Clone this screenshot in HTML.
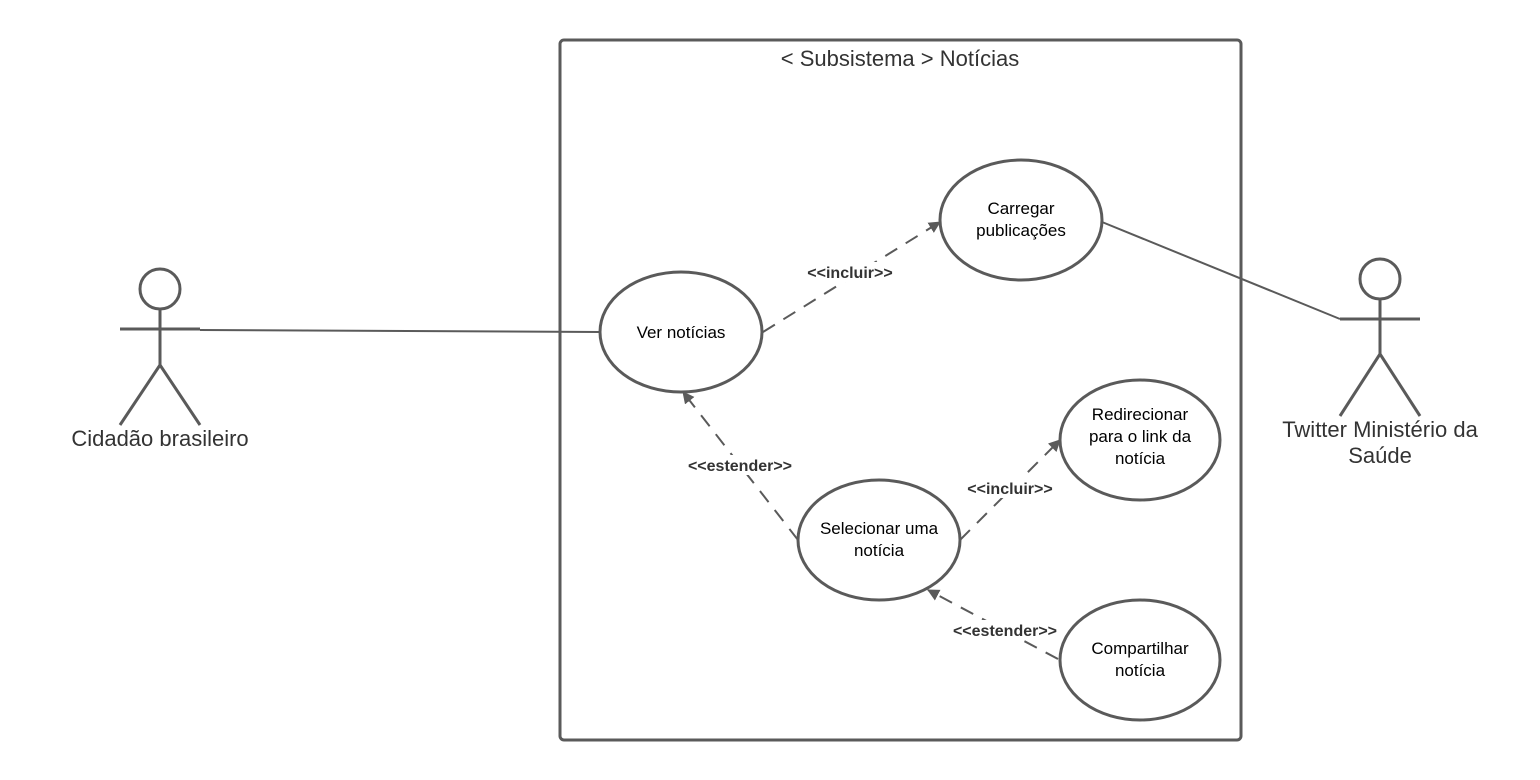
<!DOCTYPE html>
<html><head><meta charset="utf-8"><style>
html,body{margin:0;padding:0;background:#fff;}
svg{display:block;}
text{font-family:"Liberation Sans",Arial,sans-serif;}
</style></head><body>
<svg width="1540" height="780" viewBox="0 0 1540 780" xmlns="http://www.w3.org/2000/svg">
<defs>
<marker id="a" markerWidth="12" markerHeight="12" refX="11" refY="6" orient="auto" markerUnits="userSpaceOnUse">
<path d="M0,0 L12,6 L0,12 Z" fill="#5a5a5a"/>
</marker>
</defs>
<g stroke="#5a5a5a" stroke-width="3" fill="none">
<rect x="560" y="40" width="681" height="700" rx="4"/>
<circle cx="160" cy="289" r="20"/>
<line x1="160" y1="309" x2="160" y2="365"/>
<line x1="120" y1="329" x2="200" y2="329"/>
<line x1="160" y1="365" x2="120" y2="425"/>
<line x1="160" y1="365" x2="200" y2="425"/>
<circle cx="1380" cy="279" r="20"/>
<line x1="1380" y1="299" x2="1380" y2="354"/>
<line x1="1340" y1="319" x2="1420" y2="319"/>
<line x1="1380" y1="354" x2="1340" y2="416"/>
<line x1="1380" y1="354" x2="1420" y2="416"/>
<ellipse cx="681" cy="332" rx="81" ry="60"/>
<ellipse cx="1021" cy="220" rx="81" ry="60"/>
<ellipse cx="879" cy="540" rx="81" ry="60"/>
<ellipse cx="1140" cy="440" rx="80" ry="60"/>
<ellipse cx="1140" cy="660" rx="80" ry="60"/>
</g>
<g stroke="#5a5a5a" stroke-width="2" fill="none">
<line x1="200" y1="330" x2="600" y2="332"/>
<line x1="1102" y1="222" x2="1340" y2="319"/>
</g>
<g stroke="#5a5a5a" stroke-width="2" fill="none" stroke-dasharray="14,10">
<line x1="763" y1="332" x2="940" y2="222" marker-end="url(#a)"/>
<line x1="798" y1="540" x2="683" y2="392" marker-end="url(#a)"/>
<line x1="960" y1="540" x2="1060" y2="440" marker-end="url(#a)"/>
<line x1="1058" y1="659" x2="928" y2="590" marker-end="url(#a)"/>
</g>
<g font-size="16" font-weight="bold" fill="#333" text-anchor="middle">
<rect x="800" y="262" width="100" height="20" fill="#fff"/>
<text x="850" y="278">&lt;&lt;incluir&gt;&gt;</text>
<rect x="682" y="455" width="116" height="20" fill="#fff"/>
<text x="740" y="471">&lt;&lt;estender&gt;&gt;</text>
<rect x="960" y="478" width="100" height="20" fill="#fff"/>
<text x="1010" y="494">&lt;&lt;incluir&gt;&gt;</text>
<rect x="947" y="620" width="116" height="20" fill="#fff"/>
<text x="1005" y="636">&lt;&lt;estender&gt;&gt;</text>
</g>
<g font-size="17" fill="#000" text-anchor="middle">
<text x="681" y="338">Ver notícias</text>
<text x="1021" y="214">Carregar</text>
<text x="1021" y="236">publicações</text>
<text x="879" y="534">Selecionar uma</text>
<text x="879" y="556">notícia</text>
<text x="1140" y="420">Redirecionar</text>
<text x="1140" y="442">para o link da</text>
<text x="1140" y="464">notícia</text>
<text x="1140" y="654">Compartilhar</text>
<text x="1140" y="676">notícia</text>
</g>
<g font-size="22" fill="#333" text-anchor="middle">
<text x="900" y="66">&lt; Subsistema &gt; Notícias</text>
<text x="160" y="446">Cidadão brasileiro</text>
<text x="1380" y="437">Twitter Ministério da</text>
<text x="1380" y="463">Saúde</text>
</g>
</svg>
</body></html>
